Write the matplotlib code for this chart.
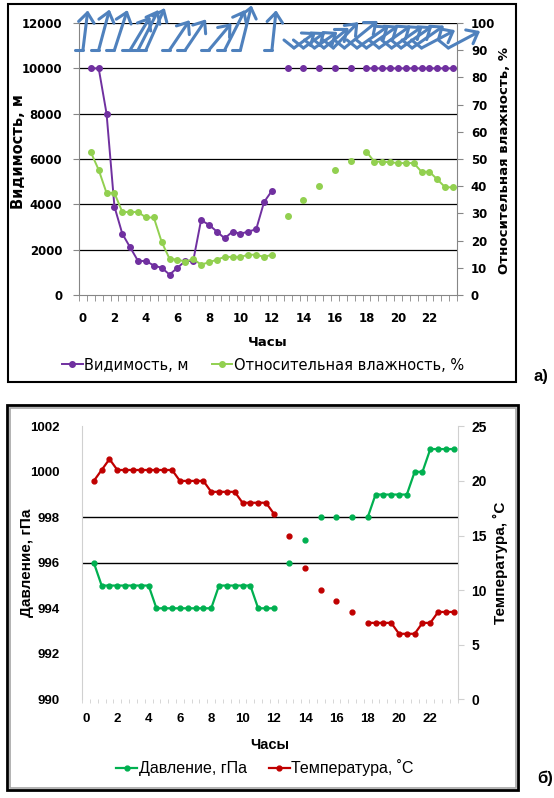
import numpy as np
import matplotlib
matplotlib.use('Agg')
import matplotlib.pyplot as plt
from matplotlib import font_manager
from matplotlib.lines import Line2D
from matplotlib.patches import Rectangle, FancyArrowPatch

W, H = 554, 798
nan = np.nan

# categories: half-hour steps 0.5 .. 23.5
hours = [h / 2 for h in range(1, 48)]

visibility = [10000, 10000, 8000, 3900, 2700, 2100, 1500, 1500, 1300, 1200, 900, 1200,
              1500, 1500, 3300, 3100, 2800, 2500, 2800, 2700, 2800, 2900, 4100, 4600,
              nan, 10000, nan, 10000, nan, 10000, nan, 10000, nan, 10000, nan,
              10000, 10000, 10000, 10000, 10000, 10000, 10000, 10000, 10000, 10000, 10000, 10000]
humidity = [52.5, 46, 37.5, 37.5, 30.5, 30.5, 30.5, 28.5, 28.5, 19.5, 13.3, 13,
            12.3, 13.2, 11.2, 12, 13, 14, 14, 14, 14.8, 14.8, 14, 14.8,
            nan, 29, nan, 35, nan, 40, nan, 46, nan, 49.3, nan,
            52.7, 49, 49, 48.8, 48.5, 48.5, 48.5, 45.3, 45.3, 42.5, 39.6, 39.6]
pressure = [996, 995, 995, 995, 995, 995, 995, 995, 994, 994, 994, 994,
            994, 994, 994, 994, 995, 995, 995, 995, 995, 994, 994, 994,
            nan, 996, nan, 997, nan, 998, nan, 998, nan, 998, nan,
            998, 999, 999, 999, 999, 999, 1000, 1000, 1001, 1001, 1001, 1001]
temperature = [20, 21, 22, 21, 21, 21, 21, 21, 21, 21, 21, 20,
               20, 20, 20, 19, 19, 19, 19, 18, 18, 18, 18, 17,
               nan, 15, nan, 12, nan, 10, nan, 9, nan, 8, nan,
               7, 7, 7, 7, 6, 6, 6, 7, 7, 8, 8, 8]

# wind arrows: hour, direction of arrow (deg from horizontal), length (px)
wind_hours = [0, 1, 2, 3, 3.5, 4, 5.5, 6.5, 8, 9, 10, 12,
              13.4, 14.0, 14.7, 15.3, 15.9, 16.6, 17.4, 18.0, 18.8, 19.6, 20.2, 20.9, 21.5, 23.2]
wind_dir = [83, 75, 72, 59, 63, 66, 56, 56, 50, 63, 76, 84,
            36, 36, 35, 39, 46, 39, 35, 35, 35, 35, 35, 35, 28, 28]
wind_len = [40, 42, 42, 39, 45, 46, 36, 37, 35, 45, 46, 40,
            27, 27, 28, 32, 36, 43, 39, 39, 39, 38, 38, 39, 38, 36]

vis_color = '#7030A0'
hum_color = '#92D050'
pr_color = '#00B050'
t_color = '#C00000'
wind_color = '#4F81BD'
grey = '#868686'
lightgrey = '#D0D0D0'

names = {f.name for f in font_manager.fontManager.ttflist}
narrow = 'Liberation Sans Narrow' if 'Liberation Sans Narrow' in names else 'Liberation Sans'
plt.rcParams['font.family'] = ['DejaVu Sans']


def rect(l, t, r, b):
    return [l / W, 1 - b / H, (r - l) / W, (b - t) / H]


def fpt(x, y):
    return (x / W, 1 - y / H)


fig = plt.figure(figsize=(W / 100, H / 100), dpi=100)

# ---------------- top chart ----------------
ax1 = fig.add_axes(rect(79, 23, 457, 295))
ax1.set_xlim(-0.25, 23.75)
ax1.set_ylim(0, 12000)
ax1r = ax1.twinx()
ax1r.set_ylim(0, 100)

for s in ['top', 'right']:
    ax1.spines[s].set_visible(False)
for s in ['top', 'left', 'bottom']:
    ax1r.spines[s].set_visible(False)
ax1.spines['left'].set_color(grey)
ax1.spines['bottom'].set_color(grey)
ax1r.spines['right'].set_color(grey)

for v in range(2000, 12001, 2000):
    ax1.axhline(v, color='black', lw=0.9, zorder=1)

ax1.set_yticks(range(0, 12001, 2000))
ax1.set_xticks(range(0, 24, 2))
ax1.set_xticks(np.arange(-0.25, 23.8, 0.5), minor=True)
ax1.tick_params(axis='y', direction='out', length=4, color=grey, labelsize=8.5, pad=8)
ax1.tick_params(axis='x', which='major', length=0, labelsize=8.5, pad=12)
ax1.tick_params(axis='x', which='minor', direction='out', length=4, color=grey)
ax1r.set_yticks(range(0, 101, 10))
ax1r.tick_params(axis='y', direction='out', length=4, color=grey, labelsize=8.5, pad=6)
plt.setp(ax1.get_xticklabels() + ax1.get_yticklabels() + ax1r.get_yticklabels(), fontweight='bold')

ax1.plot(hours, visibility, color=vis_color, lw=1.4, marker='o', ms=4, zorder=3)
ax1r.plot(hours, humidity, color=hum_color, lw=1.4, marker='o', ms=4, zorder=3)

fig.text(*fpt(19, 152), 'Видимость, м', rotation=90, ha='center', va='center',
         fontsize=10.5, fontweight='bold')
fig.text(*fpt(505, 160), 'Относительная влажность, %', rotation=90, ha='center', va='center',
         fontsize=9.5, fontweight='bold')
fig.text(*fpt(268, 342), 'Часы', ha='center', va='center', fontsize=9.5, fontweight='bold')

h1 = [Line2D([], [], color=vis_color, lw=1.4, marker='o', ms=4),
      Line2D([], [], color=hum_color, lw=1.4, marker='o', ms=4)]
fig.legend(h1, ['Видимость, м', 'Относительная влажность, %'], loc='center',
           bbox_to_anchor=fpt(263, 365), ncol=2, frameon=False, fontsize=10.5,
           handlelength=1.4, handletextpad=0.1, columnspacing=1.6, numpoints=1)

# wind arrows above the plot
for h, ang, ln in zip(wind_hours, wind_dir, wind_len):
    bx = ax1.transData.transform((h, 0))[0]
    if h < 12.5:
        by, tdx, tdy = 50, 8, 0
    else:
        by, tdx, tdy = 48, 10, 8
    hx = bx + ln * np.cos(np.radians(ang))
    hy = by - ln * np.sin(np.radians(ang))
    fig.add_artist(Line2D([(bx - tdx) / W, bx / W], [1 - (by - tdy) / H, 1 - by / H],
                          transform=fig.transFigure, color=wind_color, lw=2.2,
                          solid_capstyle='round', solid_joinstyle='round'))
    fig.add_artist(FancyArrowPatch(fpt(bx, by), fpt(hx, hy), transform=fig.transFigure,
                                   arrowstyle='->,head_length=0.5,head_width=0.4',
                                   mutation_scale=14, color=wind_color, lw=2.2,
                                   shrinkA=0, shrinkB=0, capstyle='round', joinstyle='round'))

fig.add_artist(Rectangle(fpt(8, 382), 508 / W, 378 / H, transform=fig.transFigure,
                         fill=False, ec='black', lw=1.5))
fig.text(*fpt(541, 377), 'а)', ha='center', va='center', fontsize=12, fontweight='bold',
         family='Liberation Sans')

# ---------------- bottom chart ----------------
ax2 = fig.add_axes(rect(82.1, 426.3, 457.7, 699.3))
ax2.set_xlim(-0.25, 23.75)
ax2.set_ylim(990, 1002)
ax2r = ax2.twinx()
ax2r.set_ylim(0, 25)

for s in ['top', 'right', 'bottom']:
    ax2.spines[s].set_visible(False)
for s in ['top', 'left', 'bottom']:
    ax2r.spines[s].set_visible(False)
ax2.spines['left'].set_color(lightgrey)
ax2r.spines['right'].set_color(lightgrey)

for v in [996, 998]:
    ax2.axhline(v, color='black', lw=1.0, zorder=1)

ax2.set_yticks(range(990, 1003, 2))
ax2.set_xticks(range(0, 24, 2))
ax2.set_xticks(np.arange(-0.25, 23.8, 0.5), minor=True)
ax2.tick_params(axis='y', length=0, labelsize=9.5, pad=16)
ax2.tick_params(axis='x', which='major', length=0, labelsize=9.5, pad=10)
ax2.tick_params(axis='x', which='minor', direction='out', length=3, color=lightgrey)
ax2r.set_yticks(range(0, 26, 5))
ax2r.tick_params(axis='y', direction='out', length=4, color=lightgrey, labelsize=10, pad=6)
plt.setp(ax2.get_xticklabels() + ax2.get_yticklabels() + ax2r.get_yticklabels(),
         fontweight='bold', family=narrow)

ax2.plot(hours, pressure, color=pr_color, lw=1.6, marker='o', ms=3.5, zorder=3)
ax2r.plot(hours, temperature, color=t_color, lw=1.6, marker='o', ms=3.5, zorder=3)

fig.text(*fpt(27, 563), 'Давление, гПа', rotation=90, ha='center', va='center',
         fontsize=11, fontweight='bold', family=narrow)
fig.text(*fpt(500, 563), 'Температура, ˚С', rotation=90, ha='center', va='center',
         fontsize=11, fontweight='bold', family=narrow)
fig.text(*fpt(270, 745), 'Часы', ha='center', va='center', fontsize=10.5,
         fontweight='bold', family=narrow)

h2 = [Line2D([], [], color=pr_color, lw=1.6, marker='o', ms=3.5),
      Line2D([], [], color=t_color, lw=1.6, marker='o', ms=3.5)]
fig.legend(h2, ['Давление, гПа', 'Температура, ˚С'], loc='center',
           bbox_to_anchor=fpt(265, 768), ncol=2, frameon=False,
           prop={'family': narrow, 'size': 11.5},
           handlelength=1.3, handletextpad=0.1, columnspacing=1.4, numpoints=1)

fig.add_artist(Rectangle(fpt(7, 790), 511 / W, 385 / H, transform=fig.transFigure,
                         fill=False, ec='black', lw=2))
fig.add_artist(Rectangle(fpt(9.5, 787.5), 506 / W, 380 / H, transform=fig.transFigure,
                         fill=False, ec='#A6A6A6', lw=1.2))
fig.text(*fpt(545, 778), 'б)', ha='center', va='center', fontsize=12, fontweight='bold',
         family='Liberation Sans')

fig.savefig('out.png', dpi=100)
